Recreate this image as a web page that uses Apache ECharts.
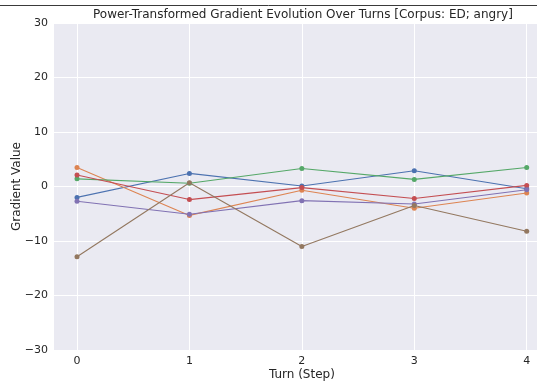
<!DOCTYPE html>
<html>
<head>
<meta charset="utf-8">
<script src="https://cdn.jsdelivr.net/npm/echarts@6/dist/echarts.min.js"></script>
<style>
  html, body { margin: 0; padding: 0; background: #fff; }
  #chart { width: 537px; height: 383px; }
</style>
</head>
<body>
<div id="chart"></div>
<script>
// turns on x axis
const turns = [0, 1, 2, 3, 4];
const yTicks = [-30, -20, -10, 0, 10, 20, 30];

// values, one array per line (seaborn deep order)
const seriesBlue = [-2.0, 2.4, 0.1, 2.9, -0.4];
const seriesOrange = [3.5, -5.3, -0.7, -4.0, -1.2];
const seriesGreen = [1.4, 0.6, 3.3, 1.3, 3.5];
const seriesRed = [2.1, -2.4, -0.2, -2.2, 0.2];
const seriesPurple = [-2.7, -5.1, -2.6, -3.2, -0.6];
const seriesBrown = [-12.9, 0.7, -11.0, -3.5, -8.2];

const palette = ['#4C72B0', '#DD8452', '#55A868', '#C44E52', '#8172B3', '#937860'];
const allSeries = [seriesBlue, seriesOrange, seriesGreen, seriesRed, seriesPurple, seriesBrown];

const chart = echarts.init(document.getElementById('chart'), null, { renderer: 'canvas' });
const textColor = '#262626';
const font = 'DejaVu Sans';

const option = {
  animation: false,
  backgroundColor: '#ffffff',
  textStyle: { fontFamily: font },
  title: {
    text: 'Power-Transformed Gradient Evolution Over Turns [Corpus: ED; angry]',
    left: 88,
    top: 4,
    textStyle: { fontFamily: font, fontSize: 12, fontWeight: 'normal', color: textColor }
  },
  graphic: [
    { type: 'line', shape: { x1: 0, y1: 5.5, x2: 537, y2: 5.5 }, style: { stroke: '#3a3a3a', lineWidth: 1 }, silent: true }
  ],
  grid: [
    // background + horizontal grid (x range -0.2..4.2)
    { left: 54, top: 23, width: 495, height: 327, show: true, backgroundColor: '#EAEAF2', borderWidth: 0, outerBoundsMode: 'none', containLabel: false },
    // data area (x range 0..4)
    { left: 77, top: 23, width: 449.7, height: 327, show: false, outerBoundsMode: 'none', containLabel: false }
  ],
  xAxis: [
    { gridIndex: 0, type: 'value', min: -0.2, max: 4.2, show: false },
    {
      gridIndex: 1, type: 'value', min: 0, max: 4, interval: 1,
      name: 'Turn (Step)', nameLocation: 'middle', nameGap: 19, nameMoveOverlap: false,
      nameTextStyle: { fontFamily: font, fontSize: 12, color: textColor },
      axisLine: { show: false }, axisTick: { show: false },
      axisLabel: { fontFamily: font, fontSize: 11, color: textColor, margin: 6 },
      splitLine: { show: true, lineStyle: { color: '#ffffff', width: 1 } }
    }
  ],
  yAxis: [
    {
      gridIndex: 0, type: 'value', min: yTicks[0], max: yTicks[yTicks.length - 1], interval: 10,
      name: 'Gradient Value', nameLocation: 'middle', nameGap: 31, nameMoveOverlap: false,
      nameTextStyle: { fontFamily: font, fontSize: 12, color: textColor },
      axisLine: { show: false }, axisTick: { show: false },
      axisLabel: {
        fontFamily: font, fontSize: 11, color: textColor, margin: 6,
        formatter: v => String(v).replace('-', '\u2212')
      },
      splitLine: { show: true, lineStyle: { color: '#ffffff', width: 1 } }
    },
    { gridIndex: 1, type: 'value', min: -30, max: 30, show: false }
  ],
  series: allSeries.map((vals, i) => ({
    type: 'line',
    xAxisIndex: 1,
    yAxisIndex: 1,
    data: turns.map((t, j) => [t, vals[j]]),
    symbol: 'circle',
    symbolSize: 5,
    lineStyle: { color: palette[i], width: 1.1 },
    itemStyle: { color: palette[i] },
    z: 3
  }))
};

chart.setOption(option);
</script>
</body>
</html>
